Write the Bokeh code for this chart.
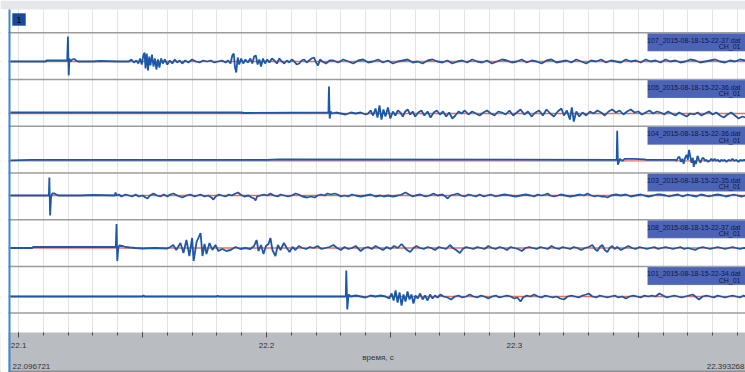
from bokeh.plotting import figure
from bokeh.models import (Range1d, Span, BoxAnnotation, Label,
                          SingleIntervalTicker, CustomJSTickFormatter)
from bokeh.embed import file_html
from bokeh.resources import INLINE

# ---------------- data ----------------
T_START = 22.096721
T_END = 22.393268
x_axis_title = "время, с"

file_names = ["107_2015-08-18-15-22-37.dat", "105_2015-08-18-15-22-36.dat",
              "104_2015-08-18-15-22-36.dat", "103_2015-08-18-15-22-35.dat",
              "108_2015-08-18-15-22-37.dat", "101_2015-08-18-15-22-34.dat"]
channels = ["CH_01", "CH_01", "CH_01", "CH_01", "CH_01", "CH_01"]

trace_107 = [(22.0967,0),(22.1110,0),(22.1112,1),(22.1196,1),(22.1199,25),(22.1202,-14),(22.1205,3),(22.1210,0),
 (22.1216,2),(22.1224,2.5),(22.1232,1),(22.1240,0),(22.1300,0),(22.1330,0.5),(22.1400,0),(22.1445,0),
 (22.1455,2),(22.1465,-1),(22.1475,1),(22.1483,-2),(22.1490,3),(22.1497,-3),(22.1503,6),(22.1508,9),(22.1512,-7),
 (22.1517,8),(22.1522,-9),(22.1527,5),(22.1532,-4),(22.1538,7),(22.1544,-5),(22.1550,3),(22.1556,-8),(22.1562,2),
 (22.1568,-6),(22.1575,3),(22.1582,-2),(22.1590,2),(22.1600,-3),(22.1610,1),(22.1620,-2),(22.1630,2),(22.1640,-1),
 (22.1650,1),(22.1660,-2),(22.1672,1),(22.1685,-1),(22.1700,2),(22.1715,0),(22.1730,-1),(22.1745,1),(22.1760,0),
 (22.1775,1),(22.1790,-1),(22.1805,0),(22.1820,1),(22.1835,-1),(22.1845,1),(22.1855,-2),(22.1862,6),(22.1868,8),
 (22.1873,-6),(22.1878,-11),(22.1884,4),(22.1890,-3),(22.1898,3),(22.1906,-2),(22.1915,2),(22.1925,-1),(22.1935,3),
 (22.1943,-2),(22.1950,5),(22.1957,6),(22.1964,-3),(22.1971,2),(22.1978,-5),(22.1986,3),(22.1994,-2),(22.2003,2),
 (22.2012,-1),(22.2022,3),(22.2032,1),(22.2042,-2),(22.2052,3),(22.2062,0),(22.2072,-2),(22.2082,1),(22.2092,-1),
 (22.2102,2),(22.2112,0),(22.2122,-3),(22.2132,-2),(22.2142,1),(22.2152,2),(22.2162,-1),(22.2172,1),(22.2182,3),
 (22.2192,4),(22.2200,-1),(22.2208,-4),(22.2216,2),(22.2225,0),(22.2240,-2),(22.2255,1),(22.2270,1),(22.2290,-1),
 (22.2310,2),(22.2330,0),(22.2350,-2),(22.2370,1),(22.2390,2),(22.2410,-1),(22.2430,0),(22.2450,2),(22.2470,-1),
 (22.2490,1),(22.2510,-2),(22.2530,0),(22.2550,1),(22.2570,2),(22.2590,-1),(22.2610,0),(22.2630,-2),(22.2650,1),
 (22.2670,2),(22.2690,0),(22.2710,-1),(22.2730,1),(22.2750,-2),(22.2770,0),(22.2790,1),(22.2810,-1),(22.2830,2),
 (22.2850,0),(22.2870,-1),(22.2890,1),(22.2910,-2),(22.2930,0),(22.2950,2),(22.2970,1),(22.2990,-1),(22.3010,0),
 (22.3030,2),(22.3050,-1),(22.3070,1),(22.3090,0),(22.3110,-2),(22.3130,1),(22.3150,2),(22.3170,-1),(22.3190,0),
 (22.3210,1),(22.3230,-1),(22.3250,2),(22.3270,0),(22.3290,-2),(22.3310,1),(22.3330,0),(22.3350,2),(22.3370,-1),
 (22.3390,1),(22.3410,0),(22.3430,-1),(22.3450,2),(22.3470,0),(22.3490,1),(22.3510,-1),(22.3530,2),(22.3550,0),
 (22.3570,1),(22.3590,-1),(22.3610,2),(22.3630,0),(22.3650,1),(22.3670,-1),(22.3690,0),(22.3710,2),(22.3730,1),
 (22.3750,-1),(22.3770,0),(22.3790,1),(22.3810,2),(22.3830,0),(22.3850,-1),(22.3870,1),(22.3890,0),(22.3910,2),
 (22.3933,1)]

trace_105 = [(22.0967,1),(22.1900,1),(22.1910,0.5),(22.2250,1),(22.2252,27),(22.2255,-5),(22.2259,2),(22.2265,0),
 (22.2280,1),(22.2300,0),(22.2320,-1),(22.2340,1),(22.2360,0),(22.2380,1),(22.2400,-1),(22.2410,0),(22.2420,3),
 (22.2430,-2),(22.2440,5),(22.2448,-4),(22.2456,8),(22.2464,-6),(22.2472,4),(22.2480,-3),(22.2490,6),(22.2500,-5),
 (22.2510,2),(22.2520,-2),(22.2530,3),(22.2540,1),(22.2550,-3),(22.2560,2),(22.2570,4),(22.2580,-1),(22.2590,2),
 (22.2600,-3),(22.2612,1),(22.2625,3),(22.2637,-2),(22.2650,2),(22.2662,-4),(22.2675,1),(22.2687,3),(22.2700,-1),
 (22.2712,2),(22.2725,-3),(22.2737,1),(22.2750,-5),(22.2762,-2),(22.2775,2),(22.2787,0),(22.2800,3),(22.2815,-1),
 (22.2830,2),(22.2845,0),(22.2860,-2),(22.2875,1),(22.2890,3),(22.2905,0),(22.2920,-2),(22.2935,2),(22.2950,1),
 (22.2965,-1),(22.2980,3),(22.2995,-2),(22.3010,1),(22.3025,4),(22.3040,-1),(22.3055,2),(22.3070,-3),(22.3085,1),
 (22.3100,3),(22.3115,-2),(22.3130,4),(22.3145,0),(22.3160,-3),(22.3175,2),(22.3190,5),(22.3200,-2),(22.3212,3),
 (22.3224,-6),(22.3232,6),(22.3240,-8),(22.3250,2),(22.3262,-3),(22.3275,1),(22.3290,-2),(22.3305,2),(22.3320,0),
 (22.3335,3),(22.3350,1),(22.3365,-2),(22.3380,2),(22.3395,4),(22.3410,1),(22.3425,3),(22.3440,-1),(22.3455,2),
 (22.3470,4),(22.3485,1),(22.3500,2),(22.3515,-1),(22.3530,1),(22.3545,3),(22.3560,0),(22.3575,2),(22.3590,1),
 (22.3605,-1),(22.3620,2),(22.3635,0),(22.3650,-2),(22.3665,1),(22.3680,-1),(22.3695,-3),(22.3710,0),(22.3725,-1),
 (22.3740,1),(22.3755,-2),(22.3770,0),(22.3785,2),(22.3800,-1),(22.3815,1),(22.3830,-2),(22.3845,-4),(22.3860,-1),
 (22.3875,1),(22.3890,-2),(22.3905,-5),(22.3920,-3),(22.3933,-4)]

trace_104 = [(22.0967,0.5),(22.1050,1),(22.2000,1),(22.2050,1.5),(22.3413,1),(22.3415,30),(22.3418,-4),(22.3422,-1),
 (22.3426,2),(22.3430,1),(22.3436,0),(22.3445,2),(22.3480,2),(22.3526,1.5),(22.3530,1),(22.3650,1),(22.3654,0),
 (22.3660,3),(22.3666,4),(22.3672,-1),(22.3678,2),(22.3683,-3),(22.3689,3),(22.3695,6),(22.3700,1),(22.3705,11),
 (22.3710,4),(22.3715,-2),(22.3720,3),(22.3724,-6),(22.3728,0),(22.3733,-3),(22.3739,5),(22.3745,1),(22.3751,-2),
 (22.3757,2),(22.3763,3),(22.3769,0),(22.3775,1),(22.3782,-1),(22.3788,0),(22.3795,2),(22.3802,0),(22.3808,2),
 (22.3815,0),(22.3822,1),(22.3828,-1),(22.3835,1),(22.3842,0),(22.3848,1),(22.3856,-1),(22.3864,1),(22.3872,0),
 (22.3880,2),(22.3888,0),(22.3896,1),(22.3904,-1),(22.3912,1),(22.3920,0),(22.3927,1),(22.3933,0)]

trace_103 = [(22.0967,0),(22.1122,0),(22.1124,18),(22.1127,-20),(22.1131,-1),(22.1136,2),(22.1145,2),(22.1152,1),
 (22.1160,0),(22.1250,0),(22.1300,0.5),(22.1388,0),(22.1391,3),(22.1395,0),(22.1405,1),(22.1415,-1),(22.1431,1),
 (22.1445,0),(22.1458,-1),(22.1472,1),(22.1485,-1),(22.1500,0),(22.1512,-2),(22.1520,-3),(22.1530,0),(22.1544,2),
 (22.1558,0),(22.1572,-1),(22.1586,1),(22.1600,-1),(22.1612,1),(22.1625,2),(22.1640,0),(22.1650,-1),(22.1661,-2),
 (22.1677,0),(22.1693,1),(22.1710,-1),(22.1722,0),(22.1734,1),(22.1750,-1),(22.1765,0),(22.1778,-2),(22.1786,-4),
 (22.1795,-1),(22.1808,1),(22.1820,0),(22.1835,-1),(22.1848,1),(22.1860,0),(22.1875,2),(22.1885,3),(22.1895,1),
 (22.1910,-1),(22.1927,0),(22.1940,-2),(22.1950,-3),(22.1956,-5),(22.1962,-1),(22.1975,0),(22.1990,1),(22.2003,0),
 (22.2016,2),(22.2030,0),(22.2045,-1),(22.2057,1),(22.2072,0),(22.2087,-1),(22.2102,0),(22.2117,2),(22.2130,1),
 (22.2145,-1),(22.2165,-2),(22.2180,-1),(22.2195,-2),(22.2206,0),(22.2220,1),(22.2235,0),(22.2246,2),(22.2260,1),
 (22.2275,2),(22.2287,1),(22.2300,-1),(22.2315,0),(22.2330,-1),(22.2345,1),(22.2360,0),(22.2380,-1),(22.2400,0),
 (22.2420,1),(22.2440,-1),(22.2460,0),(22.2473,-1),(22.2490,0),(22.2510,-1),(22.2529,0),(22.2545,1),(22.2561,3),
 (22.2575,1),(22.2590,-1),(22.2602,0),(22.2620,1),(22.2642,-1),(22.2658,0),(22.2674,2),(22.2690,0),(22.2710,1),
 (22.2722,-1),(22.2731,-3),(22.2742,0),(22.2758,1),(22.2771,2),(22.2785,0),(22.2800,-1),(22.2815,1),(22.2830,0),
 (22.2845,-1),(22.2860,1),(22.2876,-1),(22.2890,0),(22.2905,1),(22.2925,-1),(22.2940,0),(22.2960,1),(22.2985,0),
 (22.3005,-1),(22.3025,0),(22.3046,1),(22.3065,0),(22.3080,-1),(22.3094,1),(22.3110,0),(22.3125,1),(22.3134,2),
 (22.3145,0),(22.3160,-1),(22.3175,0),(22.3187,1),(22.3205,0),(22.3225,-1),(22.3247,0),(22.3265,1),(22.3280,0),
 (22.3295,2),(22.3310,0),(22.3325,-1),(22.3336,0),(22.3350,-1),(22.3365,-1),(22.3376,-2),(22.3390,0),(22.3410,1),
 (22.3429,0),(22.3450,1),(22.3470,-1),(22.3489,0),(22.3510,1),(22.3525,0),(22.3542,-1),(22.3560,0),(22.3575,1),
 (22.3590,1),(22.3610,0),(22.3625,-1),(22.3639,0),(22.3660,1),(22.3680,-1),(22.3699,1),(22.3715,0),(22.3735,-1),
 (22.3752,1),(22.3770,0),(22.3785,-1),(22.3800,0),(22.3820,1),(22.3840,0),(22.3853,-1),(22.3870,0),(22.3885,1),
 (22.3901,0),(22.3918,-1),(22.3933,0)]

trace_108 = [(22.0967,0),(22.1055,0),(22.1058,1),(22.1392,1),(22.1395,24),(22.1398,-13),(22.1402,0),(22.1407,3),
 (22.1411,2),(22.1420,2),(22.1431,1),(22.1450,0.5),(22.1472,0),(22.1500,-0.5),(22.1550,0),(22.1600,-0.5),
 (22.1612,1),(22.1624,3),(22.1636,-2),(22.1653,5),(22.1665,-5),(22.1677,8),(22.1689,-8),(22.1700,10),(22.1706,-13),
 (22.1718,6),(22.1734,15),(22.1742,-8),(22.1750,4),(22.1758,-6),(22.1770,5),(22.1782,-2),(22.1794,3),(22.1806,-3),
 (22.1822,-1),(22.1838,-3),(22.1855,-2),(22.1875,1),(22.1895,-1),(22.1915,0),(22.1935,-1),(22.1950,2),(22.1960,8),
 (22.1968,-3),(22.1978,3),(22.1988,-6),(22.1998,2),(22.2008,4),(22.2016,10),(22.2024,-2),(22.2036,-8),(22.2046,3),
 (22.2057,-2),(22.2070,5),(22.2082,0),(22.2093,-4),(22.2105,1),(22.2117,-2),(22.2130,2),(22.2145,0),(22.2160,-1),
 (22.2175,1),(22.2190,0),(22.2206,2),(22.2222,-1),(22.2238,0),(22.2254,1),(22.2270,3),(22.2285,0),(22.2300,-2),
 (22.2315,1),(22.2330,-1),(22.2345,0),(22.2360,2),(22.2380,-3),(22.2395,0),(22.2410,1),(22.2425,-1),(22.2440,2),
 (22.2455,0),(22.2470,-2),(22.2485,1),(22.2500,-1),(22.2515,2),(22.2530,0),(22.2545,4),(22.2555,1),(22.2567,-2),
 (22.2580,-4),(22.2593,0),(22.2605,2),(22.2620,0),(22.2635,-1),(22.2650,1),(22.2665,0),(22.2680,-2),(22.2695,1),
 (22.2710,0),(22.2725,-1),(22.2740,3),(22.2752,0),(22.2765,-2),(22.2780,-5),(22.2792,-1),(22.2805,1),(22.2820,0),
 (22.2835,-1),(22.2850,1),(22.2865,0),(22.2880,-1),(22.2895,2),(22.2910,0),(22.2925,-1),(22.2940,1),(22.2955,0),
 (22.2970,-2),(22.2985,1),(22.3000,0),(22.3015,-1),(22.3030,-3),(22.3045,0),(22.3060,1),(22.3075,0),(22.3090,-1),
 (22.3105,1),(22.3120,0),(22.3135,-1),(22.3150,2),(22.3165,0),(22.3180,-1),(22.3195,1),(22.3210,0),(22.3225,-1),
 (22.3240,1),(22.3255,0),(22.3270,-2),(22.3285,0),(22.3300,1),(22.3315,3),(22.3325,-1),(22.3335,-3),(22.3345,1),
 (22.3355,3),(22.3365,-2),(22.3375,-4),(22.3385,0),(22.3395,2),(22.3405,-1),(22.3415,1),(22.3430,-2),(22.3445,0),
 (22.3460,2),(22.3475,0),(22.3490,-1),(22.3505,1),(22.3520,0),(22.3535,-1),(22.3550,0),(22.3565,1),(22.3580,-1),
 (22.3595,0),(22.3610,1),(22.3625,0),(22.3640,-1),(22.3655,0),(22.3670,1),(22.3685,-1),(22.3700,0),(22.3715,-1),
 (22.3730,-2),(22.3745,0),(22.3760,1),(22.3775,0),(22.3790,-1),(22.3805,0),(22.3820,1),(22.3835,0),(22.3850,-1),
 (22.3865,0),(22.3880,1),(22.3895,0),(22.3910,-1),(22.3925,0),(22.3933,0)]

trace_101 = [(22.0967,0),(22.1500,0),(22.1504,1),(22.1508,0),(22.1800,0),(22.1803,1),(22.1806,0),(22.2320,0),
 (22.2322,26),(22.2326,-13),(22.2331,2),(22.2340,0),(22.2360,1),(22.2380,0),(22.2400,-1),(22.2420,1),(22.2440,0),
 (22.2460,1),(22.2480,0),(22.2495,-2),(22.2505,3),(22.2513,-4),(22.2521,6),(22.2529,-6),(22.2537,4),(22.2545,-9),
 (22.2553,2),(22.2561,-5),(22.2569,5),(22.2577,-3),(22.2585,2),(22.2593,-7),(22.2601,1),(22.2610,-2),(22.2620,3),
 (22.2630,-3),(22.2640,1),(22.2650,-4),(22.2660,2),(22.2670,-2),(22.2680,1),(22.2690,-1),(22.2702,2),(22.2715,0),
 (22.2730,-1),(22.2745,-3),(22.2760,0),(22.2775,1),(22.2790,-1),(22.2805,0),(22.2820,2),(22.2835,0),(22.2850,-1),
 (22.2865,1),(22.2880,0),(22.2895,-2),(22.2910,0),(22.2925,1),(22.2940,-1),(22.2955,0),(22.2970,1),(22.2985,0),
 (22.3000,-2),(22.3012,-1),(22.3025,-5),(22.3035,-1),(22.3050,1),(22.3065,0),(22.3080,2),(22.3095,0),(22.3110,-1),
 (22.3125,1),(22.3140,0),(22.3155,-1),(22.3170,0),(22.3185,-2),(22.3200,-3),(22.3215,0),(22.3230,1),(22.3245,0),
 (22.3260,-1),(22.3275,1),(22.3290,2),(22.3300,3),(22.3315,0),(22.3330,-1),(22.3345,1),(22.3360,0),(22.3375,-1),
 (22.3390,0),(22.3405,1),(22.3420,-1),(22.3435,0),(22.3450,-2),(22.3465,0),(22.3480,1),(22.3495,0),(22.3510,-1),
 (22.3525,1),(22.3540,0),(22.3555,1),(22.3570,0),(22.3585,3),(22.3600,1),(22.3615,-1),(22.3630,0),(22.3645,1),
 (22.3660,0),(22.3675,-1),(22.3690,0),(22.3705,1),(22.3720,2),(22.3735,-1),(22.3745,-3),(22.3760,0),(22.3775,1),
 (22.3790,0),(22.3805,-1),(22.3820,1),(22.3835,0),(22.3850,-1),(22.3865,0),(22.3880,1),(22.3895,0),(22.3910,-1),
 (22.3925,1),(22.3933,0)]

traces = [trace_107, trace_105, trace_104, trace_103, trace_108, trace_101]

# ---------------- layout (pixels; y measured up from the bottom of the canvas) ----------------
W, H = 745, 372
LEFT_PAD = 10          # white margin + blue strip
AXIS_H = 40            # grey axis band at the bottom
TOP_H = 9              # light grey band at the top
baselines = [311, 259, 211.7, 177, 124.5, 76]
separators = [339.7, 293.0, 246.3, 199.6, 152.8, 106.1, 59.4]

px_per_s = (W - LEFT_PAD) / (T_END - T_START)
x_lo = T_START - LEFT_PAD / px_per_s

FONT = "Liberation Sans"
TRACE_BLUE = "#1c58a8"
BASE_RED = "#ec6d58"
SCR = dict(left_units="screen", right_units="screen", top_units="screen", bottom_units="screen")

p = figure(width=W, height=H, x_range=Range1d(x_lo, T_END), y_range=Range1d(0, H),
           output_backend="svg", toolbar_location=None, y_axis_location=None,
           min_border_left=0, min_border_right=0, min_border_top=0, min_border_bottom=0)
p.background_fill_color = "white"
p.border_fill_color = "white"
p.outline_line_color = None

# x axis drawn at the top edge of the grey band
ticker = SingleIntervalTicker(interval=0.05, num_minor_ticks=5)
p.xaxis.ticker = ticker
p.xaxis.fixed_location = AXIS_H
p.xaxis.formatter = CustomJSTickFormatter(code="""
    return (Math.abs(tick*10 - Math.round(tick*10)) < 1e-6) ? tick.toFixed(1) : "";
""")
p.xaxis.axis_line_color = None
p.xaxis.major_tick_in = 0
p.xaxis.major_tick_out = 5
p.xaxis.minor_tick_in = 0
p.xaxis.minor_tick_out = 3
p.xaxis.major_tick_line_color = "#4a4a4a"
p.xaxis.minor_tick_line_color = "#4a4a4a"
p.xaxis.major_label_standoff = 5
p.xaxis.major_label_text_font = FONT
p.xaxis.major_label_text_font_size = "8px"
p.xaxis.major_label_text_color = "#333333"

p.xgrid.ticker = ticker
p.xgrid.grid_line_color = "#e2e2e2"
p.xgrid.minor_grid_line_color = "#e2e2e2"
p.xgrid.grid_line_width = 1
p.ygrid.visible = False

# grey axis band and its darker bottom edge
p.add_layout(BoxAnnotation(left=0, right=W, top=AXIS_H, bottom=0, **SCR, level="underlay",
                           fill_color="#b9bcc0", fill_alpha=1, line_color=None))
p.add_layout(BoxAnnotation(left=0, right=W, top=2, bottom=0, **SCR, level="underlay",
                           fill_color="#8e9196", fill_alpha=1, line_color=None))

# band separators
for s in separators:
    p.add_layout(Span(location=s, dimension="width", line_color="#9c9c9c", line_width=1.5, level="underlay"))

# red baselines
for b in baselines:
    p.add_layout(Span(location=b, dimension="width", line_color=BASE_RED, line_width=1.3, level="underlay"))

# traces
for tr, b in zip(traces, baselines):
    ts = [t for t, a in tr]
    ys = [b + a for t, a in tr]
    p.line(ts, ys, line_color=TRACE_BLUE, line_width=1.8)

# top band, white margin and blue strip on the left
p.add_layout(BoxAnnotation(left=0, right=W, top=H, bottom=H - TOP_H, **SCR,
                           fill_color="#e6e7ea", fill_alpha=1, line_color=None))
p.add_layout(BoxAnnotation(left=0, right=8, top=H - TOP_H, bottom=0, **SCR,
                           fill_color="white", fill_alpha=1, line_color=None))
p.add_layout(BoxAnnotation(left=8, right=10, top=H - TOP_H, bottom=0, **SCR,
                           fill_color="#3d86d2", fill_alpha=1, line_color=None))

# trace name boxes
for s, name, ch in zip(separators[:-1], file_names, channels):
    p.add_layout(BoxAnnotation(left=647, right=W + 2, top=s - 0.5, bottom=s - 18.5, **SCR,
                               fill_color="#4c63b6", fill_alpha=1, line_color="#c3cbea", line_width=1))
    p.add_layout(Label(x=740, y=s - 7.5, x_units="screen", y_units="screen", text=name,
                       text_align="right", text_baseline="middle", text_font=FONT,
                       text_font_size="7px", text_color="#0e1a42"))
    p.add_layout(Label(x=740, y=s - 14, x_units="screen", y_units="screen", text=ch,
                       text_align="right", text_baseline="middle", text_font=FONT,
                       text_font_size="7px", text_color="#0e1a42"))

# "1" badge
p.add_layout(BoxAnnotation(left=12, right=25, top=H - 13, bottom=H - 25, **SCR,
                           fill_color="#174a9c", fill_alpha=1, line_color="#0b2a60", line_width=1))
p.add_layout(Label(x=18.5, y=H - 19, x_units="screen", y_units="screen", text="1",
                   text_align="center", text_baseline="middle", text_font=FONT,
                   text_font_size="9px", text_color="#000000"))

# axis title and range end labels
p.add_layout(Label(x=(W + LEFT_PAD) / 2, y=15, x_units="screen", y_units="screen", text=x_axis_title,
                   text_align="center", text_baseline="middle", text_font=FONT,
                   text_font_size="8px", text_color="#333333"))
p.add_layout(Label(x=12, y=6, x_units="screen", y_units="screen", text=f"{T_START:.6f}",
                   text_align="left", text_baseline="middle", text_font=FONT,
                   text_font_size="8px", text_color="#333333"))
p.add_layout(Label(x=W - 1, y=6, x_units="screen", y_units="screen", text=f"{T_END:.6f}",
                   text_align="right", text_baseline="middle", text_font=FONT,
                   text_font_size="8px", text_color="#333333"))

open("out.html", "w").write(file_html(p, INLINE))
